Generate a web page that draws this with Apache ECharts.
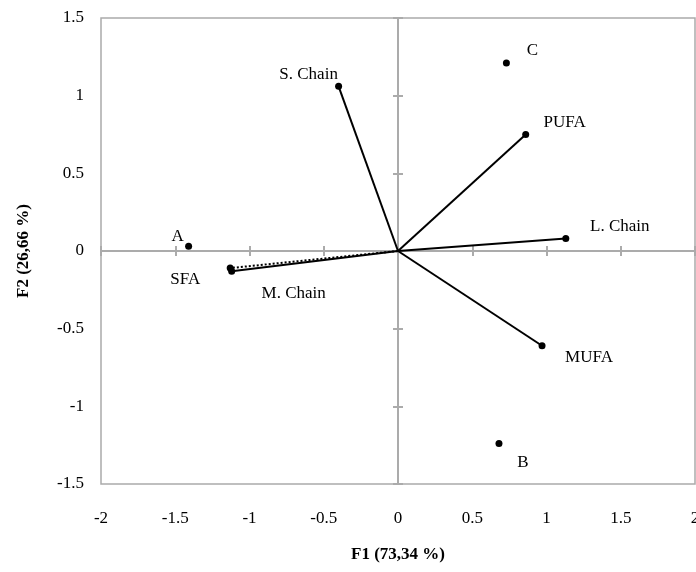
<!DOCTYPE html>
<html>
<head>
<meta charset="utf-8">
<script src="https://cdn.jsdelivr.net/npm/echarts@6/dist/echarts.min.js"></script>
<style>html,body{margin:0;padding:0;background:#fff}#c{width:696px;height:572px}</style>
</head>
<body>
<div id="c"></div>
<script>
// Observations (A, B, C)
const obsNames = ['A', 'B', 'C'];
const obsX = [-1.41, 0.68, 0.73];
const obsY = [0.03, -1.24, 1.21];
// Variable vectors
const varNames = ['S. Chain', 'PUFA', 'L. Chain', 'MUFA', 'SFA', 'M. Chain'];
const varX = [-0.40, 0.86, 1.13, 0.97, -1.13, -1.12];
const varY = [1.06, 0.75, 0.08, -0.61, -0.11, -0.13];
// Axes
const xMin = -2, xMax = 2, xStep = 0.5;
const yMin = -1.5, yMax = 1.5, yStep = 0.5;
const xTitle = 'F1 (73,34 %)';
const yTitle = 'F2 (26,66 %)';

// label offsets (style only)
const labelOffset = {
  'A': [-11, -10], 'B': [24, 19], 'C': [26, -13],
  'S. Chain': [-30, -12], 'PUFA': [39, -12], 'L. Chain': [54, -12],
  'MUFA': [47, 12], 'SFA': [-45, 11], 'M. Chain': [62, 22]
};
const dashed = { 'SFA': 'dotted' };

const FONT = 'Liberation Serif';
const GREY = '#ababab';
const labelStyle = (name) => ({
  show: true, position: 'inside', offset: labelOffset[name],
  formatter: name, color: '#000', opacity: 1, fontFamily: FONT, fontSize: 17,
  align: 'center', verticalAlign: 'middle'
});

const series = [];
varNames.forEach((n, i) => {
  series.push({
    type: 'line', name: n, xAxisIndex: 0, yAxisIndex: 0,
    data: [
      { value: [0, 0], symbol: 'none' },
      { value: [varX[i], varY[i]], symbol: 'circle', symbolSize: 7, label: labelStyle(n) }
    ],
    lineStyle: { color: '#000', width: 2, type: dashed[n] || 'solid' },
    itemStyle: { color: '#000', opacity: 1 },
    showSymbol: true, animation: false, z: 5, silent: true
  });
});
series.push({
  type: 'scatter', name: 'obs', xAxisIndex: 0, yAxisIndex: 0,
  data: obsNames.map((n, i) => ({ value: [obsX[i], obsY[i]], label: labelStyle(n) })),
  symbolSize: 7, itemStyle: { color: '#000', opacity: 1 }, animation: false, z: 6, silent: true
});

function xAx(extra) {
  return Object.assign({
    type: 'value', min: xMin, max: xMax, interval: xStep,
    splitLine: { show: false }
  }, extra);
}
function yAx(extra) {
  return Object.assign({
    type: 'value', min: yMin, max: yMax, interval: yStep,
    splitLine: { show: false }
  }, extra);
}

const option = {
  backgroundColor: '#fff',
  animation: false,
  grid: { left: 101, right: 1, top: 18, bottom: 88, show: true, borderColor: GREY, borderWidth: 1.5,
          containLabel: false, outerBoundsMode: 'none' },
  xAxis: [
    xAx({
      position: 'bottom',
      axisLine: { show: false, onZero: false }, axisTick: { show: false },
      axisLabel: { color: '#000', fontFamily: FONT, fontSize: 17, margin: 26 },
      name: xTitle, nameLocation: 'middle', nameGap: 62,
      nameTextStyle: { color: '#000', fontFamily: FONT, fontSize: 17, fontWeight: 'bold' }
    }),
    xAx({
      position: 'bottom',
      axisLine: { show: true, onZero: true, onZeroAxisIndex: 0, lineStyle: { color: GREY, width: 2 } },
      axisTick: { show: true, inside: false, length: 5, lineStyle: { color: GREY, width: 2 } },
      axisLabel: { show: false }
    }),
    xAx({
      position: 'bottom',
      axisLine: { show: true, onZero: true, onZeroAxisIndex: 0, lineStyle: { color: GREY, width: 2 } },
      axisTick: { show: true, inside: true, length: 5, lineStyle: { color: GREY, width: 2 } },
      axisLabel: { show: false }
    })
  ],
  yAxis: [
    yAx({
      position: 'left',
      axisLine: { show: false, onZero: false }, axisTick: { show: false },
      axisLabel: { color: '#000', fontFamily: FONT, fontSize: 17, margin: 17 },
      name: yTitle, nameLocation: 'middle', nameGap: 69, nameRotate: 90,
      nameTextStyle: { color: '#000', fontFamily: FONT, fontSize: 17, fontWeight: 'bold' }
    }),
    yAx({
      position: 'left',
      axisLine: { show: true, onZero: true, onZeroAxisIndex: 0, lineStyle: { color: GREY, width: 2 } },
      axisTick: { show: true, inside: false, length: 5, lineStyle: { color: GREY, width: 2 } },
      axisLabel: { show: false }
    }),
    yAx({
      position: 'left',
      axisLine: { show: true, onZero: true, onZeroAxisIndex: 0, lineStyle: { color: GREY, width: 2 } },
      axisTick: { show: true, inside: true, length: 5, lineStyle: { color: GREY, width: 2 } },
      axisLabel: { show: false }
    })
  ],
  series: series
};
const chart = echarts.init(document.getElementById('c'), null, { renderer: 'canvas' });
chart.setOption(option);
</script>
</body>
</html>
